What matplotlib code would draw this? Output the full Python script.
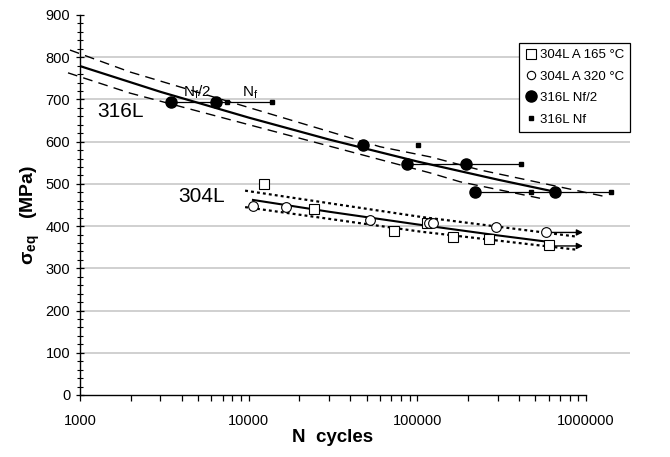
import matplotlib
matplotlib.use("Agg")
import matplotlib.pyplot as plt
from matplotlib.lines import Line2D
from matplotlib.ticker import LogLocator, NullFormatter, FixedLocator, MultipleLocator
import numpy as np

plt.rcParams['font.family'] = ['Liberation Sans', 'DejaVu Sans']
plt.rcParams['mathtext.fontset'] = 'custom'
plt.rcParams['mathtext.rm'] = 'Liberation Sans'
plt.rcParams['mathtext.it'] = 'Liberation Sans:italic'
plt.rcParams['mathtext.bf'] = 'Liberation Sans:bold'

# ---------------- data ----------------
# 316L: N at half life (filled circles) and N at failure (small squares)
n316_half = [3463, 6400, 47600, 86400, 193000, 221000, 658000]
s316_half = [694, 694, 592, 547, 547, 481, 481]
n316_fail = [7410, 13800, 101000, 413000, 471000, 1410000]
s316_fail = [694, 694, 592, 547, 481, 481]
# horizontal connectors Nf/2 -> Nf
seg_n0 = [3463, 86400, 221000]
seg_n1 = [13800, 413000, 1410000]
seg_s = [694, 547, 481]

# 316L trend and scatter band
fit316_n = [1000, 3000, 10000, 30000, 100000, 300000, 660000]
fit316_s = [779, 718, 657, 605, 553, 510, 481]
up316_n = [872, 1980, 60000, 119000, 235000, 1330000]
up316_s = [817, 765, 588, 564, 533, 469]
lo316_n = [849, 1980, 119000, 179000, 533000]
lo316_s = [763, 715, 526, 505, 466]

# 304L A 165 C (open squares) and 304L A 320 C (open circles)
n304_165 = [12300, 24500, 72600, 114000, 162000, 265000, 603000]
s304_165 = [500, 441, 388, 407, 374, 369, 355]
n304_320 = [10600, 16600, 52400, 117000, 124000, 292000, 578000]
s304_320 = [448, 445, 414, 407, 407, 398, 386]

# 304L trend and band
fit304_n = [10600, 30000, 100000, 300000, 590000]
fit304_s = [462, 434, 404, 378, 363]
up304_n = [9520, 104000, 883000]
up304_s = [484, 422, 375]
lo304_n = [9520, 104000, 883000]
lo304_s = [445, 387, 344]

# run-out arrows
arrow_n0 = [578000, 603000]
arrow_n1 = [958000, 958000]
arrow_s = [385, 353]

xticks = [1000, 10000, 100000, 1000000]
xticklabels = ['1000', '10000', '100000', '1000000']
yticks = [0, 100, 200, 300, 400, 500, 600, 700, 800, 900]

# ---------------- figure ----------------
fig = plt.figure(figsize=(6.7, 4.57), dpi=100)
ax = fig.add_axes([80/670, 1-395/457, 550/670, 380/457])
ax.set_xscale('log')
ax.set_xlim(1000, 10**(3+550/168.7))
ax.set_ylim(0, 900)

for y in yticks[1:-1]:
    ax.axhline(y, color='#c4c4c4', lw=1.1, zorder=0)

k = 'black'
# 316L
ax.plot(fit316_n, fit316_s, color=k, lw=1.6, zorder=2)
ax.plot(up316_n, up316_s, color=k, lw=1.0, dashes=(7, 4.5), clip_on=False, zorder=2)
ax.plot(lo316_n, lo316_s, color=k, lw=1.0, dashes=(7, 4.5), clip_on=False, zorder=2)
for a, b, s in zip(seg_n0, seg_n1, seg_s):
    ax.plot([a, b], [s, s], color=k, lw=0.9, zorder=2)
ax.plot(n316_half, s316_half, 'o', color=k, ms=8, zorder=3)
ax.plot(n316_fail, s316_fail, 's', color=k, ms=3.5, zorder=3)

# 304L
ax.plot(fit304_n, fit304_s, color=k, lw=1.5, zorder=2)
ax.plot(up304_n, up304_s, color=k, lw=1.6, dashes=(1.3, 1.4), zorder=2)
ax.plot(lo304_n, lo304_s, color=k, lw=1.6, dashes=(1.3, 1.4), zorder=2)
for a, b, s in zip(arrow_n0, arrow_n1, arrow_s):
    ax.annotate('', xy=(b, s), xytext=(a, s),
                arrowprops=dict(arrowstyle='-|>', color=k, lw=1.0,
                                mutation_scale=9, shrinkA=0, shrinkB=0))
ax.plot(n304_165, s304_165, 's', mfc='white', mec=k, mew=0.8, ms=7, zorder=3)
ax.plot(n304_320, s304_320, 'o', mfc='white', mec=k, mew=0.8, ms=7, zorder=3)

# texts
ax.text(1261, 658, '316L', fontsize=15, ha='left', va='baseline')
ax.text(3812, 457, '304L', fontsize=15, ha='left', va='baseline')
ax.text(4078, 706, r'$\mathregular{N_f/2}$', fontsize=11, ha='left', va='baseline')
ax.text(9130, 706, r'$\mathregular{N_f}$', fontsize=11, ha='left', va='baseline')

# axes styling
for side in ['top', 'right']:
    ax.spines[side].set_visible(False)
ax.spines['bottom'].set_bounds(1000, 1000000)
ax.spines['left'].set_linewidth(1.0)
ax.spines['bottom'].set_linewidth(1.0)

ax.xaxis.set_major_locator(FixedLocator(xticks))
ax.set_xticklabels(xticklabels)
ax.xaxis.set_minor_locator(LogLocator(base=10, subs=np.arange(2, 10), numticks=20))
ax.xaxis.set_minor_formatter(NullFormatter())
ax.set_yticks(yticks)
ax.yaxis.set_minor_locator(MultipleLocator(20))

ax.tick_params(axis='x', which='both', direction='out', length=4, width=0.9, pad=10, labelsize=10.5)
ax.tick_params(axis='y', which='major', direction='inout', length=6, width=0.9, pad=4, labelsize=10.5)
ax.tick_params(axis='y', which='minor', direction='inout', length=4, width=0.8)

ax.set_xlabel('N  cycles', fontsize=13.5, fontweight='bold', labelpad=6)
ax.xaxis.set_label_coords((333-80)/550, -0.09, transform=ax.transAxes)
ax.xaxis.label.set_va('top')
ax.set_ylabel(r'σ$_\mathbf{eq}$   (MPa)', fontsize=14, fontweight='bold')
ax.yaxis.set_label_coords(-50/550, (395-215)/380, transform=ax.transAxes)
ax.yaxis.label.set_va('center')

handles = [
    Line2D([], [], ls='none', marker='s', mfc='white', mec=k, mew=0.8, ms=7),
    Line2D([], [], ls='none', marker='o', mfc='white', mec=k, mew=0.8, ms=6),
    Line2D([], [], ls='none', marker='o', color=k, ms=8),
    Line2D([], [], ls='none', marker='s', color=k, ms=3.5),
]
labels = ['304L A 165 °C', '304L A 320 °C', '316L Nf/2', '316L Nf']
leg = ax.legend(handles, labels, loc='upper right', bbox_to_anchor=(1.0, (395-43)/380),
                borderaxespad=0, fontsize=9.5, frameon=True, fancybox=False,
                edgecolor='black', framealpha=1, handlelength=0.9, handletextpad=0.2,
                labelspacing=0.7, borderpad=0.45)
leg.get_frame().set_linewidth(0.9)

fig.savefig('out.png', dpi=100)
